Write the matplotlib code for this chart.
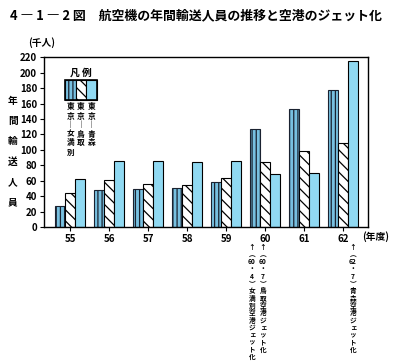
import matplotlib
matplotlib.use("Agg")
import matplotlib.pyplot as plt
from matplotlib.patches import Rectangle
import numpy as np

plt.rcParams['font.family'] = ['Noto Sans CJK JP', 'DejaVu Sans']
plt.rcParams['hatch.linewidth'] = 0.9

years = ["55", "56", "57", "58", "59", "60", "61", "62"]
memanbetsu = [27, 48, 49, 51, 58, 127, 153, 178]
tottori = [44, 61, 56, 54, 63, 84, 98, 109]
aomori = [62, 86, 85, 84, 85, 69, 70, 215]
series_labels = ["東京｜女満別", "東京｜鳥取", "東京｜青森"]
yticks = [0, 20, 40, 60, 80, 100, 120, 140, 160, 180, 200, 220]

title = "4 ― 1 ― 2 図　航空機の年間輸送人員の推移と空港のジェット化"
ylabel_chars = "年間輸送人員"
notes = [
    (252, ["↑", "︵", "60", "・", "4", "︶"] + list("女満別空港ジェット化")),
    (263, ["↑", "︵", "60", "・", "7", "︶"] + list("鳥取空港ジェット化")),
    (353, ["↑", "︵", "62", "・", "7", "︶"] + list("青森空港ジェット化")),
]

fig = plt.figure(figsize=(4.02, 3.64), dpi=100)
ax = fig.add_axes([0.1095, 0.376, 0.806, 0.467])

x = np.arange(len(years))
w = 0.255
c_light = '#90d9f2'
c_vert = '#78c0e0'
dark = '#1a2230'

ax.bar(x - w, memanbetsu, w, facecolor=c_vert, edgecolor=dark, hatch='||||', linewidth=0.8)
ax.bar(x, tottori, w, facecolor='white', edgecolor='black', hatch='\\\\\\', linewidth=0.8)
ax.bar(x + w, aomori, w, facecolor=c_light, edgecolor='black', linewidth=0.8)

ax.set_xlim(-0.67, 7.64)
ax.set_ylim(0, 220)
ax.set_xticks(x)
ax.set_xticklabels(years, fontsize=7, fontweight='bold')
ax.set_yticks(yticks)
ax.set_yticklabels([str(v) for v in yticks], fontsize=7, fontweight='bold')
ax.tick_params(axis='both', length=3, width=0.8, pad=2)
for s in ax.spines.values():
    s.set_linewidth(1.0)

tr = fig.transFigure
def fx(px):
    return px / 402
def fy(py):
    return 1 - py / 364

def vtext(px, py0, step, tokens, size, weight='bold'):
    for i, ch in enumerate(tokens):
        fig.text(fx(px), fy(py0 + i * step), ch, ha='center', va='center',
                 fontsize=size, fontweight=weight)

# legend drawn manually
legend_x0 = 65
legend_w = 32
legend_y0 = 80
legend_h = 20
pw = legend_w / 3
styles = [dict(facecolor=c_vert, edgecolor=dark, hatch='||||'),
          dict(facecolor='white', edgecolor='black', hatch='\\\\\\'),
          dict(facecolor=c_light, edgecolor='black')]
for i, st in enumerate(styles):
    r = Rectangle((fx(legend_x0 + i * pw), fy(legend_y0 + legend_h)), fx(pw), legend_h / 364,
                  transform=tr, linewidth=0.8, **st)
    fig.add_artist(r)
fig.add_artist(Rectangle((fx(legend_x0), fy(legend_y0 + legend_h)), fx(legend_w), legend_h / 364,
                         transform=tr, fill=False, edgecolor='black', linewidth=1.2))
fig.text(fx(legend_x0 + legend_w / 2), fy(73), "凡 例", ha='center', va='center',
         fontsize=7, fontweight='bold')
for i, lab in enumerate(series_labels):
    vtext(legend_x0 + (i + 0.5) * pw, 107, 9, list(lab), 5.5)

# title
fig.text(fx(10), fy(15), title, ha='left', va='center', fontsize=9.3, fontweight='bold')
# units
fig.text(fx(28), fy(43), "(千人)", ha='left', va='center', fontsize=7, fontweight='bold')
fig.text(fx(362), fy(237), "(年度)", ha='left', va='center', fontsize=7, fontweight='bold')
# y label vertical
vtext(13, 101, 20.2, list(ylabel_chars), 7)

# annotations below x axis
for px, toks in notes:
    vtext(px, 247, 7.3, toks, 4.8)

fig.savefig("out.png", dpi=100)
